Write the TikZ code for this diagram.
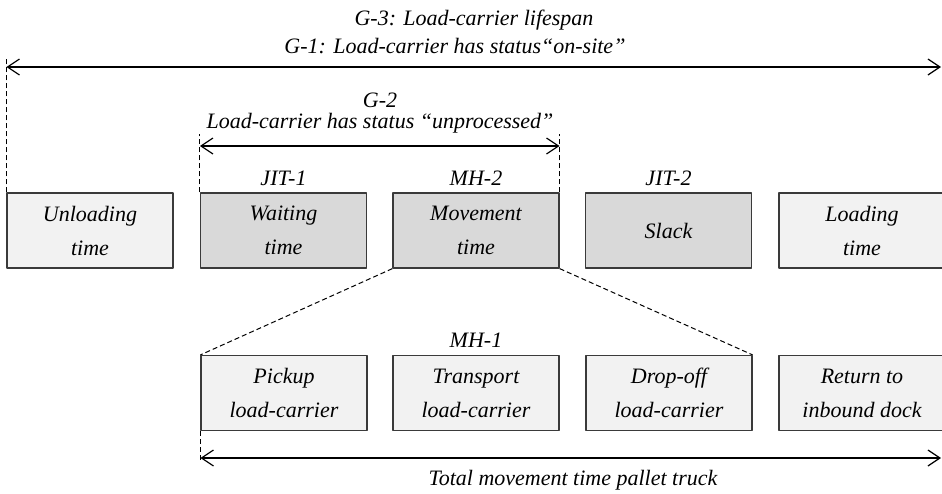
\documentclass[tikz,border=0pt]{standalone}
\usepackage{fontspec}
\setmainfont{Liberation Serif}
\usetikzlibrary{arrows.meta}
\definecolor{lightbox}{HTML}{F2F2F2}
\definecolor{darkbox}{HTML}{D9D9D9}
\definecolor{boxline}{HTML}{3A3A3A}
\tikzset{
  txt/.style={font=\itshape\fontsize{11}{17}\selectfont},
  stage/.style={txt, draw=boxline, line width=0.6pt, align=center, inner sep=0pt,
    minimum width=83pt, minimum height=37.5pt},
  light/.style={stage, fill=lightbox},
  dark/.style={stage, fill=darkbox},
  lbl/.style={txt, anchor=base, inner sep=0pt},
  guide/.style={line width=0.5pt, dash pattern=on 2.5pt off 1.5pt},
  span/.style={line width=0.6pt, {Straight Barb[length=6pt,width=8pt]}-{Straight Barb[length=6pt,width=8pt]}}
}
\begin{document}
\begin{tikzpicture}[x=0.5pt, y=-0.5pt, line join=round]
\useasboundingbox (0,0) rectangle (942,493);
% top row
\node[light] (unload) at (90,230.5) {Unloading\\time};
\node[dark] (wait) at (283.5,230.5) {Waiting\\time};
\node[dark] (move) at (476,230.5) {Movement\\time};
\node[dark] (slack) at (668.5,230.5) {Slack};
\node[light] (load) at (862,230.5) {Loading\\time};
\node[lbl] (jit1) at (283.5,185) {JIT-1};
\node[lbl] (mh2) at (476,185) {MH-2};
\node[lbl] (jit2) at (668.5,185) {JIT-2};
% bottom row
\node[light] (pick) at (284,393) {Pickup\\load-carrier};
\node[light] (trans) at (476,393) {Transport\\load-carrier};
\node[light] (drop) at (669,393) {Drop-off\\load-carrier};
\node[light] (ret) at (862,393) {Return to\\inbound dock};
\node[lbl] (mh1) at (476,347) {MH-1};
% G-1 / G-3
\node[lbl] (g3) at (474,25) {G-3: Load-carrier lifespan};
\node[lbl] (g1) at (455,53) {G-1: Load-carrier has status“on-site”};
\coordinate (g1l) at (unload.north west |- 0,67);
\coordinate (g1r) at (941,67);
\coordinate (g1top) at (unload.north west |- 0,57);
\draw[guide] (unload.north west) -- (g1top);
\draw[span] (g1l) -- (g1r);
% G-2
\node[lbl] (g2) at (380,107) {G-2};
\node[lbl] (g2txt) at (380,128) {Load-carrier has status “unprocessed”};
\coordinate (g2l) at (wait.north west |- 0,146);
\coordinate (g2r) at (move.north east |- 0,146);
\draw[guide] (wait.north west) -- ++(0,-58);
\draw[guide] (move.north east) -- ++(0,-58);
\draw[span] (g2l) -- (g2r);
% zoom of movement time
\draw[guide] (move.south west) -- (pick.north west);
\draw[guide] (move.south east) -- (drop.north east);
% total movement time
\coordinate (tl) at (pick.south west |- 0,458);
\coordinate (tr) at (941,458);
\draw[guide] (pick.south west) -- ++(0,32);
\draw[span] (tl) -- (tr);
\node[lbl] (total) at (573,485) {Total movement time pallet truck};
\end{tikzpicture}
\end{document}
